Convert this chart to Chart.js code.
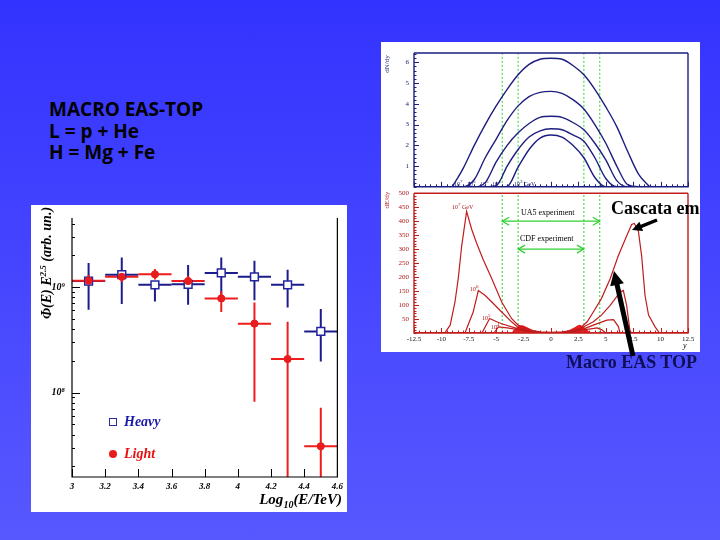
<!DOCTYPE html>
<html>
<head>
<meta charset="utf-8">
<script src="https://cdn.jsdelivr.net/npm/chart.js@4.4.1/dist/chart.umd.min.js"></script>
<style>
html, body { margin: 0; padding: 0; }
body { width: 720px; height: 540px; overflow: hidden; position: relative;
       background: linear-gradient(to bottom, #3333ff, #5858ff); }
.abs { position: absolute; }
.panel { background: #fff; }
.serif { font-family: 'Liberation Serif', 'Times New Roman', serif; }
#notes { left: 49px; top: 99px; font: bold 19px/21.5px 'Open Sans', sans-serif; color: #000; white-space: pre; }
.tiny { font-size: 6px; line-height: 6px; white-space: nowrap; }
</style>
</head>
<body>

<div id="notes" class="abs">MACRO EAS-TOP
L = p + He
H = Mg + Fe</div>

<!-- left panel: spectrum -->
<div class="abs panel" style="left:31px;top:205px;width:316px;height:307px"></div>
<canvas id="spectrum" class="abs" style="left:31px;top:205px" width="316" height="307"></canvas>
<div class="abs serif" style="left:-27px;top:255px;width:140px;height:16px;line-height:16px;text-align:center;transform:rotate(-90deg);font-style:italic;font-weight:bold;font-size:14px;white-space:nowrap">&Phi;(E) E<span style="font-size:9px;vertical-align:5px">2.5</span> (arb. un.)</div>
<div class="abs serif" style="right:378px;top:491px;font-style:italic;font-weight:bold;font-size:15px;white-space:nowrap">Log<span style="font-size:10px;vertical-align:-4px">10</span>(E/TeV)</div>
<div class="abs" style="left:109px;top:418px;width:6px;height:6px;border:1.3px solid #2a2aa0;background:#fff"></div>
<div class="abs serif" style="left:124px;top:415px;font:italic bold 14px/14px 'Liberation Serif';color:#1a1aa8">Heavy</div>
<div class="abs" style="left:109px;top:450px;width:8px;height:8px;border-radius:50%;background:#e81c1c"></div>
<div class="abs serif" style="left:124px;top:447px;font:italic bold 14px/14px 'Liberation Serif';color:#e81010">Light</div>

<!-- right panel: rapidity distributions -->
<div class="abs panel" style="left:381px;top:42px;width:319px;height:310px"></div>
<canvas id="mult" class="abs" style="left:381px;top:42px" width="319" height="154"></canvas>
<canvas id="flow" class="abs" style="left:381px;top:184px" width="319" height="168"></canvas>
<div class="abs serif" style="left:372px;top:60px;width:30px;height:8px;line-height:8px;text-align:center;transform:rotate(-90deg);font-size:7px;color:#20207a">dN/dy</div>
<div class="abs serif" style="left:372px;top:196px;width:30px;height:8px;line-height:8px;text-align:center;transform:rotate(-90deg);font-size:7px;color:#b01818">dE/dy</div>
<div class="abs serif tiny" style="left:454px;top:179px;color:#20207a">10<sup>7</sup></div>
<div class="abs serif tiny" style="left:467px;top:179px;color:#20207a">10<sup>6</sup></div>
<div class="abs serif tiny" style="left:480px;top:179px;color:#20207a">10<sup>5</sup></div>
<div class="abs serif tiny" style="left:492px;top:179px;color:#20207a">10<sup>4</sup></div>
<div class="abs serif tiny" style="left:514px;top:179px;color:#20207a">10<sup>3</sup> GeV</div>
<div class="abs serif tiny" style="left:452px;top:202px;color:#b01818">10<sup>7</sup> GeV</div>
<div class="abs serif tiny" style="left:470px;top:284px;color:#b01818">10<sup>6</sup></div>
<div class="abs serif tiny" style="left:482px;top:313px;color:#b01818">10<sup>5</sup></div>
<div class="abs serif tiny" style="left:491px;top:322px;color:#b01818">10<sup>4</sup></div>
<div class="abs serif" style="left:521px;top:209px;font-size:8px;line-height:8px">UA5 experiment</div>
<div class="abs serif" style="left:520px;top:235px;font-size:8px;line-height:8px">CDF experiment</div>
<div class="abs serif" style="left:683px;top:342px;font-size:8px;line-height:8px;font-style:italic">y</div>

<svg id="arrows" class="abs" style="left:0;top:0" width="720" height="540"></svg>
<div class="abs serif" style="left:611px;top:198px;font-weight:bold;font-size:18px;line-height:20px;color:#000;white-space:nowrap">Cascata em</div>
<div class="abs serif" style="left:566px;top:352px;font-weight:bold;font-size:18px;line-height:20px;color:#10105a;white-space:nowrap">Macro EAS TOP</div>

<script>
// ---------- spectrum (left panel) ----------
var binCenters = [3.1, 3.3, 3.5, 3.7, 3.9, 4.1, 4.3, 4.5];
var binHalf = 0.1;
var heavyFlux = [1.14e9, 1.31e9, 1.05e9, 1.06e9, 1.36e9, 1.25e9, 1.05e9, 3.8e8];
var heavyLow  = [6.1e8, 6.9e8, 7.3e8, 6.8e8, 8.2e8, 7.5e8, 6.4e8, 1.97e8];
var heavyHigh = [1.69e9, 1.9e9, 1.1e9, 1.62e9, 1.9e9, 1.77e9, 1.46e9, 6.2e8];
var lightFlux = [1.15e9, 1.25e9, 1.32e9, 1.14e9, 7.8e8, 4.5e8, 2.08e8, 3.1e7];
var lightLow  = [1.02e9, 1.12e9, 1.18e9, 1.02e9, 5.8e8, 8.2e7, 1e7, 1e7];
var lightHigh = [1.3e9, 1.4e9, 1.48e9, 1.27e9, 9.1e8, 7.15e8, 4.7e8, 7.2e7];
var energyTicks = [3, 3.2, 3.4, 3.6, 3.8, 4, 4.2, 4.4, 4.6];
var energyLabels = ['3', '3.2', '3.4', '3.6', '3.8', '4', '4.2', '4.4', '4.6'];
var fluxDecades = [1e8, 1e9];
var fluxDecadeLabels = ['10\u2078', '10\u2079'];

// ---------- rapidity plots (right panel) ----------
var rapidityCuts = [-4.45, -3, 3, 4.45];
var multEta = [-9, -8, -7, -6, -5, -4, -3, -2, -1, 0, 1, 2, 3, 4, 5, 6, 7, 8, 9];
var mult7 = [0, 0.9, 2.0, 3.0, 3.9, 4.7, 5.4, 5.9, 6.15, 6.2, 6.15, 5.85, 5.4, 4.7, 3.85, 2.9, 1.7, 0.6, 0];
var mult6 = [0, 0, 0.35, 1.4, 2.3, 3.2, 3.9, 4.35, 4.55, 4.6, 4.5, 4.2, 3.75, 3.0, 2.1, 1.0, 0.1, 0, 0];
var mult5 = [0, 0, 0, 0.2, 1.2, 2.0, 2.6, 3.05, 3.35, 3.4, 3.35, 3.1, 2.75, 2.1, 1.3, 0.3, 0, 0, 0];
var mult4 = [0, 0, 0, 0, 0.05, 1.0, 1.8, 2.4, 2.7, 2.8, 2.75, 2.5, 2.2, 1.4, 0.4, 0, 0, 0, 0];
var mult3 = [0, 0, 0, 0, 0, 0.02, 0.95, 1.8, 2.35, 2.5, 2.4, 2.0, 1.4, 0.45, 0, 0, 0, 0, 0];
var multTicks = [1, 2, 3, 4, 5, 6];

var flowEta7 = [-12.5, -9.7, -9.2, -8.76, -8.45, -8.15, -7.7, -7.24, -6.8, -6.2, -5.4, -4.5, -3.6, -3, -1.9, -1, 0, 1, 1.9, 2.65, 3.3, 3.86, 4.6, 5.4, 6.14, 6.9, 7.36, 7.6, 7.97, 8.27, 8.58, 8.9, 9.5, 9.9, 12.5];
var flow7    = [0, 0, 28, 111, 199, 311, 435, 371, 323, 264, 194, 111, 52, 28, 10, 4, 2, 4, 9, 17, 40, 75, 123, 194, 276, 347, 388, 392, 365, 276, 134, 64, 22, 0, 0];
var flowEta6 = [-12.5, -7.85, -7.1, -6.63, -6.0, -5.4, -4.5, -3.6, -3, -2, -1, 0, 1, 2, 2.65, 3.86, 4.6, 5.4, 6.3, 6.6, 6.9, 7.2, 7.35, 12.5];
var flow6    = [0, 0, 75, 152, 134, 111, 75, 40, 20, 8, 2, 1, 2, 7, 15, 40, 64, 99, 146, 152, 99, 10, 0, 0];
var flowEta5 = [-12.5, -6.3, -5.6, -4.95, -4.5, -3, -2, -1, 0, 1, 2, 3, 3.86, 5.1, 5.7, 6.14, 6.3, 12.5];
var flow5    = [0, 0, 52, 40, 33, 15, 6, 1, 0.5, 1, 6, 15, 28, 46, 48, 24, 0, 0];
var flowEta4 = [-12.5, -5.2, -4.8, -4, -3, -2, -1, 0, 1, 2, 3, 4.2, 4.6, 5.0, 12.5];
var flow4    = [0, 0, 22, 18, 12, 5, 1, 0.3, 1, 5, 11, 18, 12, 0, 0];
var flowEta3 = [-12.5, -3.6, -3.2, -2.7, -2.2, -1.5, -1, 1, 1.5, 2.2, 2.6, 3.1, 3.6, 12.5];
var flow3    = [0, 0, 15, 25, 18, 5, 0, 0, 5, 18, 27, 15, 0, 0];
var flowTicks = [50, 100, 150, 200, 250, 300, 350, 400, 450, 500];
var etaTicks = [-12.5, -10, -7.5, -5, -2.5, 0, 2.5, 5, 7.5, 10, 12.5];
var etaLabels = ['-12.5', '-10', '-7.5', '-5', '-2.5', '0', '2.5', '5', '7.5', '10', '12.5'];
var ua5Range = [-4.45, 4.45], ua5Level = 400;
var cdfRange = [-3, 3], cdfLevel = 300;

Chart.defaults.font.family = "'Liberation Serif', serif";

function pts(xs, ys) {
  return xs.map(function(x, i) { return {x: x, y: ys[i]}; });
}

// frame around chart area + ticks pointing inwards (ROOT style)
var framePlugin = {
  id: 'frame',
  afterDatasetsDraw: function(chart, args, o) {
    var ctx = chart.ctx, a = chart.chartArea;
    ctx.save();
    ctx.strokeStyle = o.color;
    ctx.lineWidth = o.width;
    ctx.beginPath();
    if (o.top) { ctx.moveTo(a.left, a.top); ctx.lineTo(a.right, a.top); }
    ctx.moveTo(a.right, a.top); ctx.lineTo(a.right, a.bottom);
    ctx.lineTo(a.left, a.bottom); ctx.lineTo(a.left, a.top);
    ctx.stroke();
    ctx.lineWidth = 1;
    ['x', 'y'].forEach(function(id) {
      var sc = chart.scales[id];
      sc.ticks.forEach(function(t) {
        var len = t.major ? o.major : o.minor;
        var p = Math.round(sc.getPixelForValue(t.value)) + 0.5;
        ctx.beginPath();
        if (id === 'x') { ctx.moveTo(p, a.bottom); ctx.lineTo(p, a.bottom - len); }
        else { ctx.moveTo(a.left, p); ctx.lineTo(a.left + len, p); }
        ctx.stroke();
      });
    });
    ctx.restore();
  }
};

// error bars from the dataset's errLow / errHigh arrays
var errorBarPlugin = {
  id: 'errorBars',
  beforeDatasetsDraw: function(chart) {
    var ctx = chart.ctx, a = chart.chartArea;
    var xs = chart.scales.x, ys = chart.scales.y;
    ctx.save();
    ctx.beginPath();
    ctx.rect(a.left, a.top, a.right - a.left, a.bottom - a.top);
    ctx.clip();
    chart.data.datasets.slice().reverse().forEach(function(ds) {
      if (!ds.errLow) return;
      ctx.strokeStyle = ds.errColor;
      ctx.lineWidth = 2;
      ds.data.forEach(function(p, i) {
        var px = xs.getPixelForValue(p.x), py = ys.getPixelForValue(p.y);
        ctx.beginPath();
        ctx.moveTo(xs.getPixelForValue(p.x - ds.xErr), py);
        ctx.lineTo(xs.getPixelForValue(p.x + ds.xErr), py);
        ctx.moveTo(px, ys.getPixelForValue(ds.errLow[i]));
        ctx.lineTo(px, ys.getPixelForValue(ds.errHigh[i]));
        ctx.stroke();
      });
    });
    ctx.restore();
  }
};

// open arrow heads on both ends of datasets flagged with arrow:true
var arrowPlugin = {
  id: 'arrowHeads',
  afterDatasetsDraw: function(chart) {
    var ctx = chart.ctx;
    chart.data.datasets.forEach(function(ds, i) {
      if (!ds.arrow) return;
      var pts = chart.getDatasetMeta(i).data;
      var p0 = pts[0], p1 = pts[pts.length - 1];
      ctx.save();
      ctx.strokeStyle = ds.borderColor;
      ctx.lineWidth = 1.2;
      ctx.beginPath();
      ctx.moveTo(p0.x + 7, p0.y - 4); ctx.lineTo(p0.x, p0.y); ctx.lineTo(p0.x + 7, p0.y + 4);
      ctx.moveTo(p1.x - 7, p1.y - 4); ctx.lineTo(p1.x, p1.y); ctx.lineTo(p1.x - 7, p1.y + 4);
      ctx.stroke();
      ctx.restore();
    });
  }
};

function tickList(major, minorStep, lo, hi) {
  var out = [];
  var n = Math.round((hi - lo) / minorStep);
  for (var i = 0; i <= n; i++) {
    var v = +(lo + i * minorStep).toFixed(6);
    out.push({value: v, major: major.indexOf(v) >= 0});
  }
  return out;
}

function cutLines(top) {
  return rapidityCuts.map(function(c) {
    return {data: [{x: c, y: 0}, {x: c, y: top}], showLine: true, borderColor: '#2fd02f',
            borderWidth: 1, borderDash: [2, 2], pointRadius: 0};
  });
}

// ---------- left chart ----------
new Chart(document.getElementById('spectrum'), {
  type: 'scatter',
  data: {
    datasets: [
      {label: 'Light', data: pts(binCenters, lightFlux), errLow: lightLow, errHigh: lightHigh,
       xErr: binHalf, errColor: '#ee1c1c', pointStyle: 'circle', pointRadius: 3.6,
       backgroundColor: '#e81c1c', borderColor: '#e81c1c', borderWidth: 1, order: 0},
      {label: 'Heavy', data: pts(binCenters, heavyFlux), errLow: heavyLow, errHigh: heavyHigh,
       xErr: binHalf, errColor: '#1c1c8a', pointStyle: 'rect', pointRadius: 5.5,
       backgroundColor: '#fff', borderColor: '#2424a0', borderWidth: 1.5, order: 1}
    ]
  },
  options: {
    responsive: false, animation: false, devicePixelRatio: 1,
    layout: {padding: {top: 2, right: 4, left: 0, bottom: 0}},
    plugins: {legend: {display: false}, tooltip: {enabled: false},
              frame: {color: '#000', width: 1.2, top: false, major: 8, minor: 3}},
    scales: {
      x: {type: 'linear', min: 3, max: 4.6,
          afterFit: function(s) { s.height = 35; },
          afterBuildTicks: function(s) { s.ticks = energyTicks.map(function(v) { return {value: v, major: true}; }); },
          grid: {display: false, drawTicks: false}, border: {display: false},
          ticks: {autoSkip: false, maxRotation: 0, padding: 4, color: '#000',
                  font: {size: 9, style: 'italic', weight: 'bold'},
                  callback: function(v) { var i = energyTicks.indexOf(v); return i >= 0 ? energyLabels[i] : ''; }}},
      y: {type: 'logarithmic', min: 1.585e7, max: 4.51e9,
          afterFit: function(s) { s.width = 41; },
          afterBuildTicks: function(s) {
            var t = [];
            for (var e = 7; e <= 9; e++) {
              for (var m = 1; m <= 9; m++) {
                var v = m * Math.pow(10, e);
                if (v >= s.min && v <= s.max) t.push({value: v, major: m === 1});
              }
            }
            s.ticks = t;
          },
          grid: {display: false, drawTicks: false}, border: {display: false},
          ticks: {autoSkip: false, padding: 7, color: '#000',
                  font: {size: 10, style: 'italic', weight: 'bold'},
                  callback: function(v) {
                    for (var i = 0; i < fluxDecades.length; i++) {
                      if (Math.abs(v / fluxDecades[i] - 1) < 1e-6) return fluxDecadeLabels[i];
                    }
                    return '';
                  }}}
    }
  },
  plugins: [errorBarPlugin, framePlugin]
});

// ---------- right top: dN/dy ----------
var multSets = [mult7, mult6, mult5, mult4, mult3].map(function(ys) {
  return {data: pts(multEta, ys), showLine: true, borderColor: '#1e1e80', borderWidth: 1.4,
          pointRadius: 0, cubicInterpolationMode: 'monotone'};
});
new Chart(document.getElementById('mult'), {
  type: 'scatter',
  data: {datasets: multSets.concat(cutLines(6.45))},
  options: {
    responsive: false, animation: false, devicePixelRatio: 1,
    layout: {padding: {top: 11, right: 12, left: 0, bottom: 0}},
    plugins: {legend: {display: false}, tooltip: {enabled: false},
              frame: {color: '#1e1e80', width: 1.4, top: true, major: 5, minor: 2.5}},
    scales: {
      x: {type: 'linear', min: -12.5, max: 12.5,
          afterFit: function(s) { s.height = 3; },
          afterBuildTicks: function(s) { s.ticks = tickList(etaTicks, 0.5, -12.5, 12.5); },
          grid: {display: false, drawTicks: false}, border: {display: false},
          ticks: {display: false}},
      y: {type: 'linear', min: 0, max: 6.45,
          afterFit: function(s) { s.width = 33; },
          afterBuildTicks: function(s) { s.ticks = tickList(multTicks, 0.2, 0, 6.4); },
          grid: {display: false, drawTicks: false}, border: {display: false},
          ticks: {autoSkip: false, padding: 5, color: '#20207a', font: {size: 7},
                  callback: function(v) { return multTicks.indexOf(v) >= 0 ? String(v) : ''; }}}
    }
  },
  plugins: [framePlugin]
});

// ---------- right bottom: dE/dy ----------
var flowSets = [[flowEta7, flow7], [flowEta6, flow6], [flowEta5, flow5], [flowEta4, flow4]].map(function(c) {
  return {data: pts(c[0], c[1]), showLine: true, borderColor: '#c01c1c', borderWidth: 1.2,
          pointRadius: 0, tension: 0};
});
flowSets.push({data: pts(flowEta3, flow3), showLine: true, borderColor: '#e81818', borderWidth: 1.5,
               backgroundColor: '#ee2020', fill: 'origin', pointRadius: 0, tension: 0.3});
flowSets.push({data: [{x: ua5Range[0], y: ua5Level}, {x: ua5Range[1], y: ua5Level}], showLine: true,
               borderColor: '#2fd02f', borderWidth: 1.2, pointRadius: 0, arrow: true});
flowSets.push({data: [{x: cdfRange[0], y: cdfLevel}, {x: cdfRange[1], y: cdfLevel}], showLine: true,
               borderColor: '#2fd02f', borderWidth: 1.2, pointRadius: 0, arrow: true});
new Chart(document.getElementById('flow'), {
  type: 'scatter',
  data: {datasets: flowSets.concat(cutLines(500))},
  options: {
    responsive: false, animation: false, devicePixelRatio: 1,
    layout: {padding: {top: 8, right: 12, left: 0, bottom: 0}},
    plugins: {legend: {display: false}, tooltip: {enabled: false}, filler: {propagate: false},
              frame: {color: '#c01c1c', width: 1.4, top: true, major: 5, minor: 2.5}},
    scales: {
      x: {type: 'linear', min: -12.5, max: 12.5,
          afterFit: function(s) { s.height = 19; },
          afterBuildTicks: function(s) { s.ticks = tickList(etaTicks, 0.5, -12.5, 12.5); },
          grid: {display: false, drawTicks: false}, border: {display: false},
          ticks: {autoSkip: false, maxRotation: 0, padding: 2, color: '#111', font: {size: 7},
                  callback: function(v) { var i = etaTicks.indexOf(v); return i >= 0 ? etaLabels[i] : ''; }}},
      y: {type: 'linear', min: 0, max: 500,
          afterFit: function(s) { s.width = 33; },
          afterBuildTicks: function(s) { s.ticks = tickList(flowTicks, 10, 0, 500); },
          grid: {display: false, drawTicks: false}, border: {display: false},
          ticks: {autoSkip: false, padding: 5, color: '#b01818', font: {size: 7},
                  callback: function(v) { return flowTicks.indexOf(v) >= 0 ? String(v) : ''; }}}
    }
  },
  plugins: [arrowPlugin, framePlugin]
});

// ---------- black pointer arrows ----------
function pointer(x1, y1, x2, y2, w, hl, hw) {
  var svg = document.getElementById('arrows');
  var dx = x2 - x1, dy = y2 - y1, L = Math.sqrt(dx * dx + dy * dy);
  var ux = dx / L, uy = dy / L, nx = -uy, ny = ux;
  var bx = x2 - ux * hl, by = y2 - uy * hl;
  var line = document.createElementNS('http://www.w3.org/2000/svg', 'line');
  line.setAttribute('x1', x1); line.setAttribute('y1', y1);
  line.setAttribute('x2', bx + ux * 2); line.setAttribute('y2', by + uy * 2);
  line.setAttribute('stroke', '#000'); line.setAttribute('stroke-width', w);
  svg.appendChild(line);
  var head = document.createElementNS('http://www.w3.org/2000/svg', 'polygon');
  head.setAttribute('points', x2 + ',' + y2 + ' ' + (bx + nx * hw) + ',' + (by + ny * hw) + ' ' + (bx - nx * hw) + ',' + (by - ny * hw));
  head.setAttribute('fill', '#000');
  svg.appendChild(head);
}
pointer(657, 220, 632, 230, 3.5, 10, 5);
pointer(633, 356, 614, 271, 5, 14, 7);
</script>
</body>
</html>
